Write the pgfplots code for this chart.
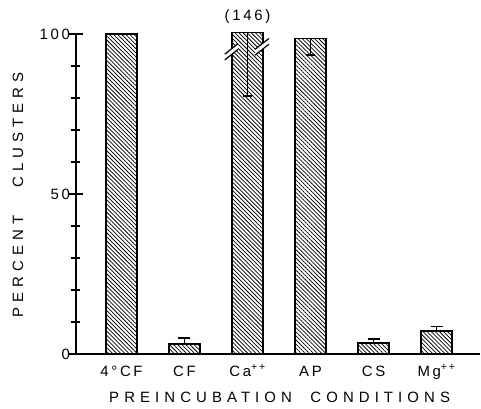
\documentclass[border=0pt]{standalone}
\usepackage{pgfplots}
\pgfplotsset{compat=1.18}
\usepackage{fontspec}
\setmainfont{Liberation Sans}
\newfontfamily\lsA[LetterSpace=34]{Liberation Sans}
\newfontfamily\lsB[LetterSpace=18]{Liberation Sans}
\usetikzlibrary{patterns.meta}
\pgfplotsset{hbar/.style={ybar, bar width=0.49, bar shift=0pt, draw=black, line width=1.4bp,
     pattern={Lines[angle=-45, distance=2.9bp, line width=0.75bp]}}}
\begin{document}
\begin{tikzpicture}
\begin{axis}[name=ax,
  scale only axis, width=404bp, height=320bp,
  xmin=-0.722, xmax=5.69, ymin=0, ymax=100,
  axis x line*=bottom, axis y line*=left,
  axis line style={line width=1.4bp},
  clip=false,
  xtick={0,1,2,3,4,5},
  xticklabels={4°CF, CF, Ca\textsuperscript{++}, AP, CS, Mg\textsuperscript{++}},
  ytick={0,50,100}, minor ytick={10,20,30,40,60,70,80,90},
  ytick align=center, xtick align=inside,
  major tick length=15bp, minor tick length=9bp,
  ytick style={draw=black, line width=1.3bp},
  xtick style={draw=none},
  /pgf/number format/assume math mode=true,
  ticklabel style={font=\fontsize{15}{17}\selectfont\lsB},
  xticklabel style={anchor=base, yshift=-22bp},
  yticklabel style={anchor=east, xshift=5bp},
  xlabel={PREINCUBATION\ \ CONDITIONS},
  ylabel={PERCENT\ \ \ CLUSTERS},
  label style={font=\fontsize{15}{17}\selectfont\lsA},
  x label style={at={(axis description cs:0.504,0)}, anchor=center, yshift=-43bp},
  y label style={at={([xshift=-58bp]axis description cs:0,0.497)}, anchor=center},
]
% bar without error bar
\addplot[hbar] coordinates {(0,100)};
% bars with upward error bars
\addplot[hbar, error bars/.cd, y dir=plus, y explicit,
   error bar style={line width=1.6bp, draw=black, solid},
   error mark options={line width=1.6bp, mark size=6bp, draw=black, rotate=90, solid}]
 coordinates {(1,3.1) +- (0,1.9) (4,3.4) +- (0,1.3) (5,7.2) +- (0,1.4)};
% bars with downward error bars
\addplot[hbar, error bars/.cd, y dir=minus, y explicit,
   error bar style={line width=1.6bp, draw=black, solid},
   error mark options={line width=1.6bp, mark size=4.5bp, draw=black, rotate=90, solid}]
 coordinates {(2,100.5) +- (0,19.8) (3,98.6) +- (0,5.2)};
% axis break marks on the Ca++ bar
\fill[white] (axis cs:1.64,91.9) -- (axis cs:1.85,95.2) -- (axis cs:1.85,97.0) -- (axis cs:1.64,93.7) -- cycle;
\draw[line width=1.2bp] (axis cs:1.64,91.9) -- (axis cs:1.85,95.2);
\draw[line width=1.2bp] (axis cs:1.64,93.7) -- (axis cs:1.85,97.0);
\fill[white] (axis cs:2.12,93.4) -- (axis cs:2.34,96.8) -- (axis cs:2.34,98.6) -- (axis cs:2.12,95.2) -- cycle;
\draw[line width=1.2bp] (axis cs:2.12,93.4) -- (axis cs:2.34,96.8);
\draw[line width=1.2bp] (axis cs:2.12,95.2) -- (axis cs:2.34,98.6);
\node[font=\fontsize{15}{17}\selectfont\lsB, anchor=center] at ([yshift=17bp]axis cs:2,100) {(146)};
\end{axis}
\pgfresetboundingbox
\path (ax.south west) ++(-76bp,-55bp) rectangle ++(481bp,409bp);
\end{tikzpicture}
\end{document}
